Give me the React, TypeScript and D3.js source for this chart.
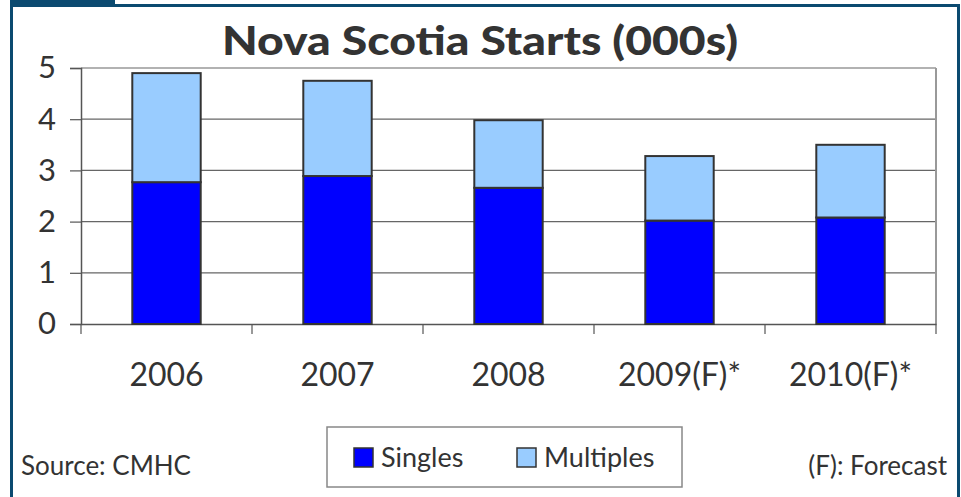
import React, { useEffect, useRef } from 'react';
import * as d3 from 'd3';

const years = ['2006', '2007', '2008', '2009(F)*', '2010(F)*'];
const singles = [2.77, 2.89, 2.66, 2.02, 2.08];
const multiples = [2.13, 1.86, 1.32, 1.26, 1.42];
const yTicks = [0, 1, 2, 3, 4, 5];

const FONT = 'Lato, "Open Sans", sans-serif';

const App: React.FC = () => {
  const ref = useRef<SVGSVGElement | null>(null);

  useEffect(() => {
    if (!ref.current) return;
    const svg = d3.select(ref.current);
    svg.selectAll('*').remove();

    const width = 961;
    const height = 497;
    const left = 81;
    const right = 936;
    const top = 68;
    const bottom = 324;

    // frame
    svg.append('rect').attr('width', width).attr('height', height).attr('fill', '#fff');
    svg.append('rect').attr('x', 10).attr('y', 0).attr('width', 105).attr('height', 5).attr('fill', '#0b4a70');
    svg.append('path')
      .attr('d', `M11.5,${height} V5.5 H958.5 V${height}`)
      .attr('fill', 'none')
      .attr('stroke', '#0b4a70')
      .attr('stroke-width', 3);

    svg.append('text')
      .attr('x', 480)
      .attr('y', 55)
      .attr('text-anchor', 'middle')
      .attr('font-family', FONT)
      .attr('font-weight', 900)
      .attr('font-size', 40)
      .attr('fill', '#333')
      .attr('textLength', 516)
      .attr('lengthAdjust', 'spacingAndGlyphs')
      .text('Nova Scotia Starts (000s)');

    const x = d3.scaleBand<string>().domain(years).range([left, right]).paddingInner(0);
    const y = d3.scaleLinear().domain([0, 5]).range([bottom, top]);

    // gridlines
    svg.append('g')
      .selectAll('line')
      .data(yTicks.filter(t => t > 0))
      .enter()
      .append('line')
      .attr('x1', left)
      .attr('x2', right)
      .attr('y1', d => y(d))
      .attr('y2', d => y(d))
      .attr('stroke', '#666')
      .attr('stroke-width', 1.2);

    // right plot border
    svg.append('line')
      .attr('x1', right).attr('x2', right).attr('y1', top).attr('y2', bottom)
      .attr('stroke', '#999').attr('stroke-width', 2);

    // y axis
    const yAxis = svg.append('g').attr('transform', `translate(${left},0)`)
      .call(d3.axisLeft(y).tickValues(yTicks).tickSize(11).tickPadding(14).tickFormat(d => String(d)));
    yAxis.select('.domain').attr('stroke', '#555').attr('stroke-width', 1.5);
    yAxis.selectAll('.tick line').attr('stroke', '#555').attr('stroke-width', 1.2);
    yAxis.selectAll('.tick text')
      .attr('font-family', FONT)
      .attr('font-size', 31)
      .attr('fill', '#333');

    // x axis
    const xAxis = svg.append('g').attr('transform', `translate(0,${bottom})`)
      .call(d3.axisBottom(x).tickSize(0).tickPadding(39));
    xAxis.select('.domain').attr('stroke', '#555').attr('stroke-width', 1.5);
    xAxis.selectAll('.tick text')
      .attr('font-family', FONT)
      .attr('font-size', 32)
      .attr('fill', '#333')
      .attr('dy', '0.71em');
    // category separators
    svg.append('g')
      .selectAll('line')
      .data(years.concat(['end']))
      .enter()
      .append('line')
      .attr('x1', (d, i) => left + i * x.bandwidth())
      .attr('x2', (d, i) => left + i * x.bandwidth())
      .attr('y1', bottom)
      .attr('y2', bottom + 10)
      .attr('stroke', '#555')
      .attr('stroke-width', 1.2);

    // bars
    const barW = x.bandwidth() * 0.4;
    const bars = svg.append('g');
    years.forEach((yr, i) => {
      const bx = (x(yr) as number) + (x.bandwidth() - barW) / 2;
      const s = singles[i];
      const m = multiples[i];
      bars.append('rect')
        .attr('x', bx)
        .attr('y', y(s))
        .attr('width', barW)
        .attr('height', y(0) - y(s))
        .attr('fill', '#0000ff')
        .attr('stroke', '#333')
        .attr('stroke-width', 2);
      bars.append('rect')
        .attr('x', bx)
        .attr('y', y(s + m))
        .attr('width', barW)
        .attr('height', y(s) - y(s + m))
        .attr('fill', '#99ccff')
        .attr('stroke', '#333')
        .attr('stroke-width', 2);
    });

    // legend
    const lg = svg.append('g');
    lg.append('rect')
      .attr('x', 327).attr('y', 427).attr('width', 355).attr('height', 60)
      .attr('fill', '#fff').attr('stroke', '#888').attr('stroke-width', 1.5);
    const items = [
      { label: 'Singles', color: '#0000ff', x: 354 },
      { label: 'Multiples', color: '#99ccff', x: 517 },
    ];
    items.forEach(it => {
      lg.append('rect')
        .attr('x', it.x).attr('y', 448).attr('width', 19).attr('height', 19)
        .attr('fill', it.color).attr('stroke', '#333').attr('stroke-width', 1.5);
      lg.append('text')
        .attr('x', it.x + 27).attr('y', 467)
        .attr('font-family', FONT).attr('font-size', 27).attr('fill', '#333')
        .text(it.label);
    });

    svg.append('text')
      .attr('x', 21).attr('y', 475)
      .attr('font-family', FONT).attr('font-size', 26).attr('fill', '#333')
      .text('Source: CMHC');
    svg.append('text')
      .attr('x', 947).attr('y', 475).attr('text-anchor', 'end')
      .attr('font-family', FONT).attr('font-size', 26).attr('fill', '#333')
      .text('(F): Forecast');
  }, []);

  return (
    <svg
      ref={ref}
      width={961}
      height={497}
      style={{ position: 'absolute', left: 0, top: 0, display: 'block' }}
    />
  );
};

export default App;
